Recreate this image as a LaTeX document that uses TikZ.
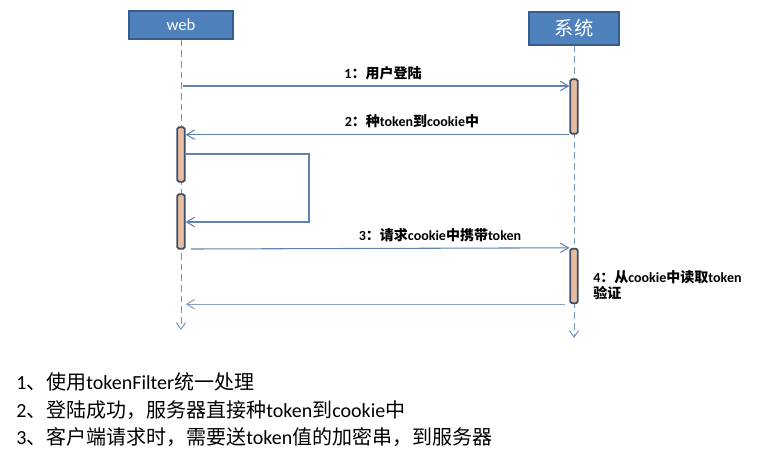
\documentclass[tikz,border=0pt]{standalone}
\usepackage{fontspec}
\setmainfont{Noto Sans CJK SC}
\newfontfamily\lat{Carlito}
\usetikzlibrary{arrows.meta,positioning}
\definecolor{headfill}{HTML}{4F81BD}
\definecolor{headdraw}{HTML}{385D8A}
\definecolor{lifecol}{HTML}{7093BF}
\definecolor{msgcol}{HTML}{6283AD}
\definecolor{barfill}{HTML}{E8BC9E}
\definecolor{bardraw}{HTML}{3E4F6C}

\begin{document}
\begin{tikzpicture}[x=0.75pt,y=-0.75pt,
head/.style={draw=headdraw,fill=headfill,line width=1.2pt,text=white,inner sep=0pt},
bar/.style={draw=bardraw,fill=barfill,line width=1.3pt,rounded corners=1.2pt,minimum width=5.5pt,minimum height=41pt,inner sep=0pt},
life/.style={draw=lifecol,line width=0.7pt,dash pattern=on 5pt off 3pt,-{Straight Barb[length=5pt,width=7pt]}},
msg/.style={draw=msgcol,line width=0.8pt,-{Straight Barb[length=6pt,width=7pt]}},
lbl/.style={font=\fontsize{10.5}{12}\selectfont\bfseries,inner sep=0pt}]
\fill[white] (0,0) rectangle (762,454);
\useasboundingbox (0,0) rectangle (762,454);
% heads
\node[head,minimum width=78pt,minimum height=21pt,font=\lat\fontsize{12.5}{14}\selectfont] (web) at (181,25) {web};
\node[head,minimum width=67.5pt,minimum height=24.75pt,font=\fontsize{14.5}{16}\selectfont] (sys) at (574,28.5) {系统};
% lifelines
\coordinate (webend) at (181,330);
\coordinate (sysend) at (574,338);
\draw[life] (web.south) -- (webend);
\draw[life] (sys.south) -- (sysend);
% activations
\node[bar] (sysbar1) at (574,106.5) {};
\node[bar] (webbar1) at (181,154.5) {};
\node[bar] (webbar2) at (181,221.5) {};
\node[bar] (sysbar2) at (574,276) {};
% messages
\coordinate (m1) at (183,86);
\draw[msg] (m1) -- (sysbar1.west |- m1);
\node[lbl] (l1) at (383,73) {{\lat 1}：用户登陆};
\draw[msg] (sysbar1.south west) -- (webbar1.north east |- sysbar1.south);
\node[lbl] (l2) at (412,121) {{\lat 2}：种{\lat token}到{\lat cookie}中};
\coordinate (selfr) at (309,222);
\draw[msg] (webbar1.east |- 0,154) -| (selfr) -- (webbar2.east |- selfr);
\coordinate (m3) at (191,249);
\draw[msg] (m3) -- (sysbar2.north west);
\node[lbl] (l3) at (440,235) {{\lat 3}：请求{\lat cookie}中携带{\lat token}};
\node[lbl,anchor=west,align=left,font=\fontsize{10.5}{12}\selectfont\bfseries] (l4) at (593,285) {{\lat 4}：从{\lat cookie}中读取{\lat token}\\验证};
\draw[msg,msgcol!75] ([xshift=-3pt]sysbar2.south west) -- (webbar2.east |- sysbar2.south);
% notes
\node[anchor=west,align=left,inner sep=0pt,font=\fontsize{15}{20.6}\selectfont] (notes) at (16,410)
{{\lat 1}、使用{\lat tokenFilter}统一处理\\
{\lat 2}、登陆成功，服务器直接种{\lat token}到{\lat cookie}中\\
{\lat 3}、客户端请求时，需要送{\lat token}值的加密串，到服务器};
\end{tikzpicture}
\end{document}
